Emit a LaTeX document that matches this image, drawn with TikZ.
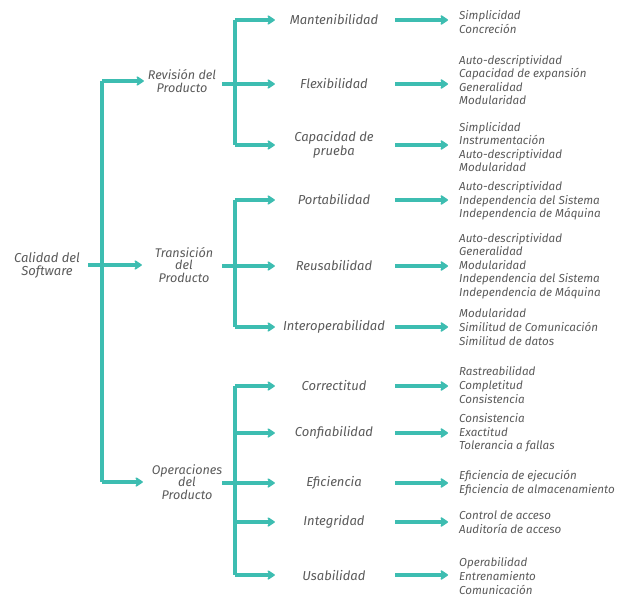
\documentclass[tikz,border=0pt]{standalone}
\usepackage{fontspec}
\setmainfont{Fira Sans}
\usetikzlibrary{arrows.meta}
\definecolor{TreeTeal}{HTML}{3DBDB1}
\definecolor{TreeText}{HTML}{5A5A5A}

\begin{document}
\begin{tikzpicture}[x=1pt,y=-1pt,
  every node/.style={text=TreeText, font=\fontsize{12.6}{12.6}\selectfont\itshape},
  branch/.style={line width=3.2pt, draw=TreeTeal},
  twig/.style={branch, -{Stealth[length=9pt,width=12pt,inset=3pt,round]}},
  leafarrow/.style={line width=4.6pt, draw=TreeTeal, -{Stealth[length=9pt,width=12pt,inset=2.5pt,round]}},
  topic/.style={inner sep=0pt, align=center},
  factor/.style={inner sep=0pt, minimum width=118pt, align=center,
    font=\fontsize{13}{12.5}\selectfont\itshape},
  criteria/.style={anchor=west, inner sep=0pt, inner xsep=11pt, align=left,
    font=\fontsize{11.6}{13.6}\selectfont\itshape}
]
  \useasboundingbox (0,0) rectangle (620,597);

  % trunks
  \coordinate (tA) at (102,0);
  \coordinate (tS) at (222,0);
  \coordinate (tB) at (235,0);

  % root and product views
  \node[topic, minimum width=82pt, font=\fontsize{13}{13}\selectfont\itshape] (root) at (47,265) {Calidad del\\Software};
  \node[topic, minimum width=76pt] (rev) at (182,81) {Revisión del\\Producto};
  \node[topic, minimum width=84pt] (tra) at (184,265) {Transición\\del\\Producto};
  \node[topic, minimum width=88pt] (ope) at (187,482) {Operaciones\\del\\Producto};

  % factors
  \node[factor] (mant) at (334,20) {Mantenibilidad};
  \node[factor] (flex) at (334,84) {Flexibilidad};
  \node[factor] (prue) at (334,145) {Capacidad de\\prueba};
  \node[factor] (port) at (334,200) {Portabilidad};
  \node[factor] (reus) at (334,266) {Reusabilidad};
  \node[factor] (inop) at (334,327) {Interoperabilidad};
  \node[factor] (corr) at (334,386) {Correctitud};
  \node[factor] (conf) at (334,433) {Confiabilidad};
  \node[factor] (efic) at (334,483) {Eficiencia};
  \node[factor] (inte) at (334,522) {Integridad};
  \node[factor] (usab) at (334,575) {Usabilidad};

  % criteria
  \node[criteria] (mant-c) at (448,22) {Simplicidad\\Concreción};
  \node[criteria] (flex-c) at (448,80) {Auto-descriptividad\\Capacidad de expansión\\Generalidad\\Modularidad};
  \node[criteria] (prue-c) at (448,147) {Simplicidad\\Instrumentación\\Auto-descriptividad\\Modularidad};
  \node[criteria] (port-c) at (448,201) {Auto-descriptividad\\Independencia del Sistema\\Independencia de Máquina};
  \node[criteria] (reus-c) at (448,266) {Auto-descriptividad\\Generalidad\\Modularidad\\Independencia del Sistema\\Independencia de Máquina};
  \node[criteria] (inop-c) at (448,327) {Modularidad\\Similitud de Comunicación\\Similitud de datos};
  \node[criteria] (corr-c) at (448,385) {Rastreabilidad\\Completitud\\Consistencia};
  \node[criteria] (conf-c) at (448,433) {Consistencia\\Exactitud\\Tolerancia a fallas};
  \node[criteria] (efic-c) at (448,483) {Eficiencia de ejecución\\Eficiencia de almacenamiento};
  \node[criteria] (inte-c) at (448,522) {Control de acceso\\Auditoría de acceso};
  \node[criteria] (usab-c) at (448,576) {Operabilidad\\Entrenamiento\\Comunicación};

  % first level
  \draw[branch] (root.east) -- (root.east -| tA);
  \draw[branch] (rev.west -| tA) -- (ope.west -| tA);
  \foreach \n in {rev,tra,ope}
    \draw[twig] (\n.west -| tA) -- (\n.west);

  % second level
  \foreach \n in {flex,reus,efic}
    \draw[branch] (\n.west -| tS) -- (\n.west -| tB);
  \draw[branch] (mant.west -| tB) -- (prue.west -| tB);
  \draw[branch] (port.west -| tB) -- (inop.west -| tB);
  \draw[branch] (corr.west -| tB) -- (usab.west -| tB);
  \foreach \n in {mant,flex,prue,port,reus,inop,corr,conf,efic,inte,usab}
    \draw[twig] (\n.west -| tB) -- (\n.west);

  % criteria arrows
  \foreach \n in {mant,flex,prue,port,reus,inop,corr,conf,efic,inte,usab}
    \draw[leafarrow] ([xshift=2pt]\n.east) -- (\n.east -| \n-c.west);

\end{tikzpicture}
\end{document}
